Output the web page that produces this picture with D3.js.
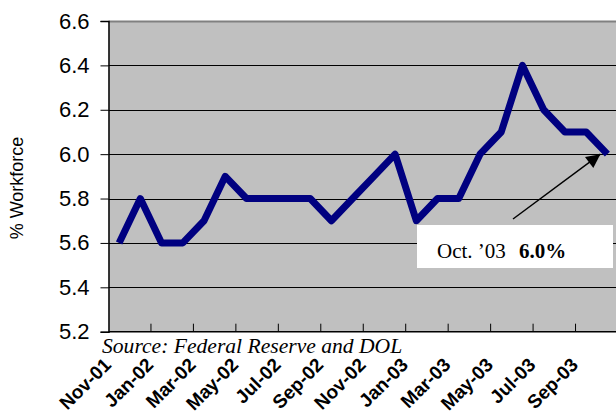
<!DOCTYPE html>
<html>
<head>
  <title>Unemployment Rate</title>
  <script src="https://d3js.org/d3.v7.min.js"></script>
  <style>
    body { margin: 0; background: #fff; }
  </style>
</head>
<body>
  <div id="chart"></div>

  <script>
    // Monthly unemployment rate, Nov-01 through Oct-03
    const months = ["Nov-01", "Dec-01", "Jan-02", "Feb-02", "Mar-02", "Apr-02",
      "May-02", "Jun-02", "Jul-02", "Aug-02", "Sep-02", "Oct-02",
      "Nov-02", "Dec-02", "Jan-03", "Feb-03", "Mar-03", "Apr-03",
      "May-03", "Jun-03", "Jul-03", "Aug-03", "Sep-03", "Oct-03"];
    const rates = [5.6, 5.8, 5.6, 5.6, 5.7, 5.9,
      5.8, 5.8, 5.8, 5.8, 5.7, 5.8,
      5.9, 6.0, 5.7, 5.8, 5.8, 6.0,
      6.1, 6.4, 6.2, 6.1, 6.1, 6.0];
    const yTicks = [5.2, 5.4, 5.6, 5.8, 6.0, 6.2, 6.4, 6.6];

    const width = 616;
    const height = 412;
    const margin = { top: 21, right: -2, bottom: 80, left: 108.5 };

    const svg = d3.select("#chart")
      .append("svg")
      .attr("width", width)
      .attr("height", height);

    const x = d3.scaleBand()
      .domain(months)
      .range([margin.left, width - margin.right]);

    const y = d3.scaleLinear()
      .domain([5.2, 6.6])
      .range([331.7, margin.top]);

    // plot background
    svg.append("rect")
      .attr("x", margin.left)
      .attr("y", y(6.6))
      .attr("width", x.range()[1] - margin.left)
      .attr("height", y(5.2) - y(6.6))
      .attr("fill", "#c0c0c0");

    // gridlines
    svg.append("g")
      .selectAll("line")
      .data(yTicks.slice(1))
      .join("line")
      .attr("x1", margin.left)
      .attr("x2", width)
      .attr("y1", d => Math.round(y(d)) + 0.5)
      .attr("y2", d => Math.round(y(d)) + 0.5)
      .attr("stroke", d => d === 6.6 ? "#808080" : "#000")
      .attr("stroke-width", d => d === 6.6 ? 2 : 1);

    // y axis
    const yAxis = svg.append("g")
      .attr("transform", `translate(${margin.left},0)`)
      .call(d3.axisLeft(y).tickValues(yTicks).tickFormat(d3.format(".1f")).tickSize(8).tickPadding(11));
    yAxis.select(".domain").attr("stroke", "#000").attr("stroke-width", 1.5);
    yAxis.selectAll("text")
      .attr("font-family", "Liberation Sans, Arial, sans-serif")
      .attr("font-size", 22)
      .attr("fill", "#000");

    // x axis line and inward ticks every two months
    svg.append("line")
      .attr("x1", margin.left)
      .attr("x2", width)
      .attr("y1", y(5.2))
      .attr("y2", y(5.2))
      .attr("stroke", "#000")
      .attr("stroke-width", 1.5);

    const labelled = months.filter((m, i) => i % 2 === 0);
    svg.append("g")
      .selectAll("line")
      .data(labelled.slice(1))
      .join("line")
      .attr("x1", d => x(d))
      .attr("x2", d => x(d))
      .attr("y1", y(5.2))
      .attr("y2", y(5.2) - 8)
      .attr("stroke", "#000");

    svg.append("g")
      .selectAll("text")
      .data(labelled)
      .join("text")
      .attr("transform", d => `translate(${x(d) + x.bandwidth() * 0.5 - 7},366) rotate(-45)`)
      .attr("text-anchor", "end")
      .attr("font-family", "Liberation Sans, Arial, sans-serif")
      .attr("font-weight", "bold")
      .attr("font-size", 19)
      .text(d => d);

    // data line
    const line = d3.line()
      .x((d, i) => x(months[i]) + x.bandwidth() / 2)
      .y(d => y(d));

    svg.append("path")
      .datum(rates)
      .attr("d", line)
      .attr("fill", "none")
      .attr("stroke", "#000080")
      .attr("stroke-width", 7)
      .attr("stroke-linejoin", "round");

    // y axis title
    svg.append("text")
      .attr("transform", `translate(23,188) rotate(-90)`)
      .attr("text-anchor", "middle")
      .attr("font-family", "Liberation Sans, Arial, sans-serif")
      .attr("font-size", 18)
      .text("% Workforce");

    // source
    svg.append("text")
      .attr("x", 102)
      .attr("y", 353)
      .attr("font-family", "Liberation Serif, Times New Roman, serif")
      .attr("font-style", "italic")
      .attr("font-size", 21.6)
      .text("Source: Federal Reserve and DOL");

    // annotation
    const last = months.length - 1;
    svg.append("defs").append("marker")
      .attr("id", "arrow")
      .attr("viewBox", "0 0 10 10")
      .attr("refX", 10)
      .attr("refY", 5)
      .attr("markerWidth", 20)
      .attr("markerHeight", 14)
      .attr("orient", "auto")
      .attr("markerUnits", "userSpaceOnUse")
      .append("path")
      .attr("d", "M0,0L10,5L0,10Z")
      .attr("fill", "#000");

    svg.append("line")
      .attr("x1", 513)
      .attr("y1", 219)
      .attr("x2", x(months[last]) + x.bandwidth() / 2 - 7)
      .attr("y2", y(rates[last]))
      .attr("stroke", "#000")
      .attr("stroke-width", 1.5)
      .attr("marker-end", "url(#arrow)");

    svg.append("rect")
      .attr("x", 417)
      .attr("y", 225)
      .attr("width", 196)
      .attr("height", 43)
      .attr("fill", "#fff");

    const note = svg.append("text")
      .attr("x", 437)
      .attr("y", 257.5)
      .attr("font-family", "Liberation Serif, Times New Roman, serif")
      .attr("font-size", 21);
    note.append("tspan").text("Oct. \u201903");
    note.append("tspan")
      .attr("x", 519)
      .attr("font-weight", "bold")
      .attr("font-size", 21)
      .text(rates[last].toFixed(1) + "%");
  </script>
</body>
</html>
